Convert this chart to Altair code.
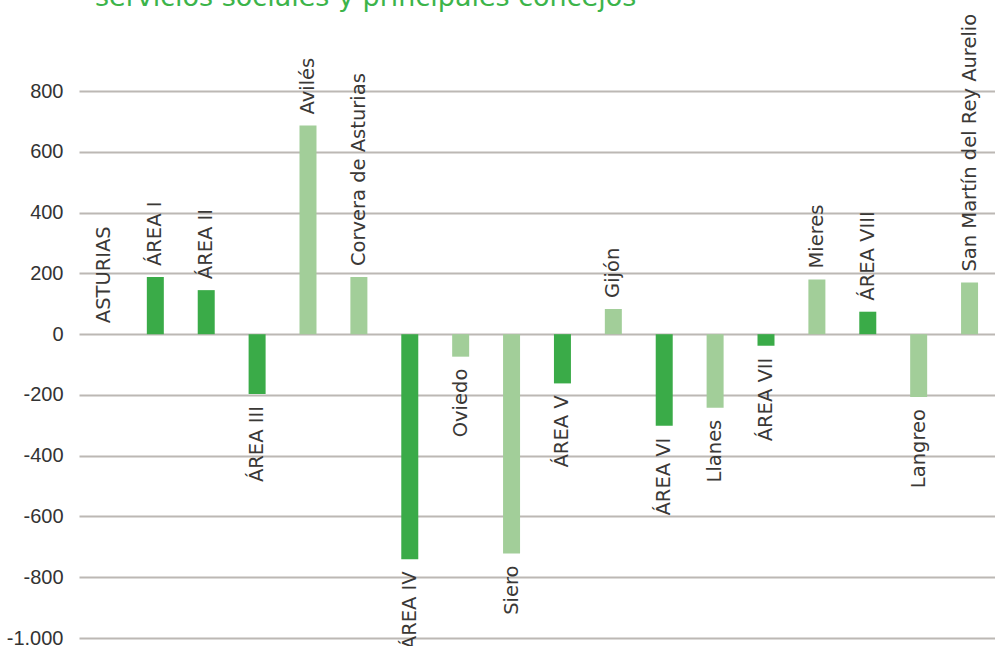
import altair as alt
import pandas as pd

categories = ["ASTURIAS", "ÁREA I", "ÁREA II", "ÁREA III", "Avilés", "Corvera de Asturias",
              "ÁREA IV", "Oviedo", "Siero", "ÁREA V", "Gijón", "ÁREA VI", "Llanes",
              "ÁREA VII", "Mieres", "ÁREA VIII", "Langreo", "San Martín del Rey Aurelio"]
values = [0, 188, 145, -197, 687, 188, -741, -74, -722, -162, 83, -301, -242, -38, 180, 74, -207, 170]
kinds = ["total", "area", "area", "area", "concejo", "concejo", "area", "concejo", "concejo",
         "area", "concejo", "area", "concejo", "area", "concejo", "area", "concejo", "concejo"]
y_ticks = [-1000, -800, -600, -400, -200, 0, 200, 400, 600, 800]
title_text = "servicios sociales y principales concejos"

df = pd.DataFrame({"cat": categories, "value": values, "kind": kinds})

DARK = "#3aab48"
LIGHT = "#a2ce99"
TEXT = "#3a3836"

x_enc = alt.X("cat:N", sort=categories, axis=None,
              scale=alt.Scale(paddingInner=0.666, paddingOuter=0.333))
y_scale = alt.Scale(domain=[-1000, 1100], nice=False, zero=False)

base = alt.Chart(df)

bars = base.mark_bar().encode(
    x=x_enc,
    y=alt.Y("value:Q", scale=y_scale, title=None,
            axis=alt.Axis(values=y_ticks, grid=True, gridColor="#bcb8b4", gridWidth=2.2,
                          domain=False, ticks=False, labelPadding=16,
                          labelFont="Liberation Sans", labelFontSize=20, labelColor="#333333",
                          labelExpr="replace(replace(format(datum.value, ',d'), ',', '.'), '\u2212', '-')")),
    y2=alt.datum(0),
    color=alt.Color("kind:N", scale=alt.Scale(domain=["total", "area", "concejo"],
                                              range=[DARK, DARK, LIGHT]), legend=None),
)

pos_labels = base.transform_filter("datum.value >= 0").mark_text(
    angle=270, align="left", baseline="middle", dx=11,
    font="DejaVu Sans", fontSize=19.5, color=TEXT
).encode(x=x_enc, y=alt.Y("value:Q", scale=y_scale), text="cat:N")

neg_labels = base.transform_filter("datum.value < 0").mark_text(
    angle=270, align="right", baseline="middle", dx=-12,
    font="DejaVu Sans", fontSize=19.5, color=TEXT
).encode(x=x_enc, y=alt.Y("value:Q", scale=y_scale), text="cat:N")

title = alt.Chart(pd.DataFrame({"t": [title_text]})).mark_text(
    align="left", baseline="alphabetic", font="DejaVu Sans", fontSize=27, color="#3cb44a"
).encode(x=alt.value(16), y=alt.value(6), text="t:N")

chart = alt.layer(bars, pos_labels, neg_labels, title).properties(
    width=916, height=638,
    autosize=alt.AutoSizeParams(type="none"),
    padding={"left": 79, "top": 0, "right": 0, "bottom": 8},
).configure_view(stroke=None)

chart.save("out.html", embed_options={"renderer": "svg", "actions": False})
